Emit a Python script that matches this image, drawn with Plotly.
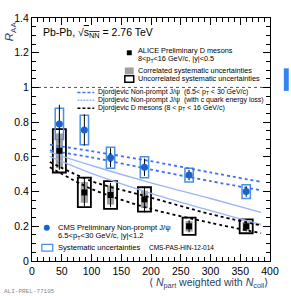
import plotly.graph_objects as go

# ---------------- data ----------------
npart = [46, 88, 132, 189, 264, 360]

alice_raa = [0.635, 0.395, 0.38, 0.355, 0.20, 0.20]
alice_stat = [0.11, 0.08, 0.07, 0.075, 0.035, 0.03]
alice_uncorr = [0.125, 0.085, 0.08, 0.07, 0.05, 0.04]
alice_corr = [0.10, 0.06, 0.055, 0.05, 0.03, 0.025]

cms_raa = [0.79, 0.755, 0.595, 0.54, 0.495, 0.40]
cms_stat = [0.11, 0.09, 0.055, 0.05, 0.03, 0.03]
cms_sys = [0.09, 0.085, 0.06, 0.06, 0.04, 0.04]

model_x = [30, 100, 200, 300, 385]
jpsi_upper = [0.67, 0.633, 0.575, 0.51, 0.456]
jpsi_lower = [0.637, 0.597, 0.527, 0.46, 0.407]
jpsi_eloss_upper = [0.627, 0.55, 0.45, 0.36, 0.28]
jpsi_eloss_lower = [0.603, 0.505, 0.39, 0.29, 0.21]
dmes_upper = [0.57, 0.46, 0.365, 0.27, 0.205]
dmes_lower = [0.54, 0.415, 0.30, 0.22, 0.16]

x_ticks = [0, 50, 100, 150, 200, 250, 300, 350, 400]
y_ticks = [0, 0.2, 0.4, 0.6, 0.8, 1.0, 1.2, 1.4]
y_ticktext = ["0", "0.2", "0.4", "0.6", "0.8", "1", "1.2", "1.4"]

# ---------------- style ----------------
W, H = 291, 296
L, R, T, B = 32, 273, 13, 261
FONT = "Liberation Sans, Arial, sans-serif"
CMS_BLUE = "#1a63c9"
CMS_BOX = "#4b8fe0"
DASH_BLUE = "#3d6ff0"
LIGHT_BLUE = "#9db6f2"
GRAY = "#a0a0a0"


def px(x):
    return (x - L) / (R - L)


def py(y):
    return (B - y) / (B - T)


fig = go.Figure()

# systematic boxes (bars)
fig.add_trace(go.Bar(
    x=npart, y=[2 * e for e in alice_uncorr],
    base=[v - e for v, e in zip(alice_raa, alice_uncorr)],
    width=22, marker=dict(color="rgba(255,255,255,0)", line=dict(color="black", width=1.8)),
))
fig.add_trace(go.Bar(
    x=npart, y=[2 * e for e in alice_corr],
    base=[v - e for v, e in zip(alice_raa, alice_corr)],
    width=12, marker=dict(color=GRAY, line=dict(color=GRAY, width=0)),
))
fig.add_trace(go.Bar(
    x=npart, y=[2 * e for e in cms_sys],
    base=[v - e for v, e in zip(cms_raa, cms_sys)],
    width=14, marker=dict(color="rgba(255,255,255,0)", line=dict(color=CMS_BOX, width=1.5)),
))

# reference line at 1
fig.add_trace(go.Scatter(x=[0, 400], y=[1, 1], mode="lines",
                         line=dict(color="#555555", width=1, dash="dot")))

# models
for ys, col, dash, wd in [
    (jpsi_upper, DASH_BLUE, "dash", 1.8), (jpsi_lower, DASH_BLUE, "dash", 1.8),
    (jpsi_eloss_upper, LIGHT_BLUE, "solid", 1.4), (jpsi_eloss_lower, LIGHT_BLUE, "solid", 1.4),
    (dmes_upper, "black", "dash", 1.8), (dmes_lower, "black", "dash", 1.8),
]:
    fig.add_trace(go.Scatter(x=model_x, y=ys, mode="lines",
                             line=dict(color=col, width=wd, dash="3px,3px" if dash == "dash" else dash,
                                       shape="spline", smoothing=0.8)))

# data points
fig.add_trace(go.Scatter(
    x=npart, y=cms_raa, mode="markers",
    marker=dict(symbol="circle", size=7, color=CMS_BLUE),
    error_y=dict(type="data", array=cms_stat, color="black", thickness=1, width=0),
))
fig.add_trace(go.Scatter(
    x=npart, y=alice_raa, mode="markers",
    marker=dict(symbol="square", size=6, color="black"),
    error_y=dict(type="data", array=alice_stat, color="black", thickness=1, width=0),
))

shapes = []
ann = []


def text(x, y, s, size=7.3, color="black", anchor="left", family=FONT):
    ann.append(dict(xref="paper", yref="paper", x=px(x), y=py(y), text=s, showarrow=False,
                    xanchor=anchor, yanchor="middle", font=dict(family=family, size=size, color=color)))


def rect(x0, y0, x1, y1, line=None, fill=None, lw=1):
    shapes.append(dict(type="rect", xref="paper", yref="paper", x0=px(x0), x1=px(x1), y0=py(y1), y1=py(y0),
                       line=dict(color=line or "rgba(0,0,0,0)", width=lw if line else 0),
                       fillcolor=fill or "rgba(0,0,0,0)"))


def hline(x0, x1, y, color, dash, width):
    shapes.append(dict(type="line", xref="paper", yref="paper", x0=px(x0), x1=px(x1), y0=py(y), y1=py(y),
                       line=dict(color=color, dash=dash, width=width)))


# header
text(41, 28, "Pb-Pb, √<span style='text-decoration:overline'>s<sub>NN</sub></span> = 2.76 TeV", size=10.5)

# ALICE legend
rect(128, 46, 133, 51, fill="black")
text(137, 46.5, "ALICE Preliminary D mesons", size=7.3)
text(137, 54.5, "8<p<sub>T</sub><16 GeV/c, |y|<0.5", size=7.3)
rect(126, 63.5, 135, 70.5, fill=GRAY)
text(137, 67, "Correlated systematic uncertainties", size=7.3)
rect(126, 72, 135, 78.5, line="black", lw=1.5)
text(137, 75, "Uncorrelated systematic uncertainties", size=7.3)

# model legend
hline(78, 95, 89, DASH_BLUE, "3px,2px", 1.5)
text(97, 89, "Djordjevic Non-prompt J/ψ  (6.5< p<sub>T</sub> < 30 GeV/c)", size=7)
hline(78, 95, 97, LIGHT_BLUE, "2px,1px", 1.5)
text(97, 97, "Djordjevic Non-prompt J/ψ  (with c quark energy loss)", size=7)
hline(78, 95, 105, "black", "3px,2px", 1.5)
text(97, 105, "Djordjevic D mesons (8 < p<sub>T</sub> < 16 GeV/c)", size=7)

# CMS legend
shapes.append(dict(type="circle", xref="paper", yref="paper", x0=px(44), x1=px(50), y0=py(230), y1=py(224),
                   fillcolor=CMS_BLUE, line=dict(width=0)))
text(56, 226.5, "CMS Preliminary Non-prompt J/ψ", size=7.6)
text(56, 235, "6.5<p<sub>T</sub><30 GeV/c, |y|<1.2", size=7.6)
rect(42, 244, 53, 251, line=CMS_BOX, lw=1.3)
text(56, 247.5, "Systematic uncertainties", size=7.6)
text(148, 247.5, "CMS-PAS-HIN-12-014", size=6.5)

# global uncertainty box on the right
shapes.append(dict(type="rect", xref="paper", yref="y", x0=px(287), x1=px(292), y0=0.98, y1=1.11,
                   fillcolor="#2f86f0", line=dict(width=0)))

# axis titles
ann.append(dict(xref="paper", yref="paper", x=1.0, y=py(283), xanchor="right", yanchor="middle",
                showarrow=False, text="⟨ <i>N</i><sub>part</sub> weighted with <i>N</i><sub>coll</sub>⟩",
                font=dict(family=FONT, size=10.5)))
ann.append(dict(xref="paper", yref="paper", x=px(10), y=py(14), xanchor="center", yanchor="top",
                showarrow=False, textangle=-90, text="<i>R</i><sub>AA</sub>",
                font=dict(family=FONT, size=11.5)))
ann.append(dict(xref="paper", yref="paper", x=px(2), y=py(292), xanchor="left", yanchor="middle",
                showarrow=False, text="ALI-PREL-77105",
                font=dict(family="Liberation Mono, monospace", size=6, color="#888888")))

axis_common = dict(showline=True, linecolor="black", linewidth=1, mirror="allticks", ticks="inside",
                   ticklen=7, tickwidth=1, tickcolor="black", showgrid=False, zeroline=False,
                   tickfont=dict(family=FONT, size=10.5, color="black"))

fig.update_layout(
    width=W, height=H, margin=dict(l=L, r=W - R, t=T, b=H - B),
    paper_bgcolor="white", plot_bgcolor="white", showlegend=False, barmode="overlay",
    shapes=shapes, annotations=ann,
    xaxis=dict(range=[0, 400], tickvals=x_ticks, minor=dict(ticks="inside", dtick=10, tick0=0, ticklen=4,
                                                             tickcolor="black"), **axis_common),
    yaxis=dict(range=[0, 1.4], tickvals=y_ticks, ticktext=y_ticktext,
               minor=dict(ticks="inside", dtick=0.05, tick0=0, ticklen=4, tickcolor="black"), **axis_common),
)

fig.write_html("out.html", config={"displayModeBar": False},
               post_script="document.body.style.margin='0px';document.body.style.overflow='hidden';")
